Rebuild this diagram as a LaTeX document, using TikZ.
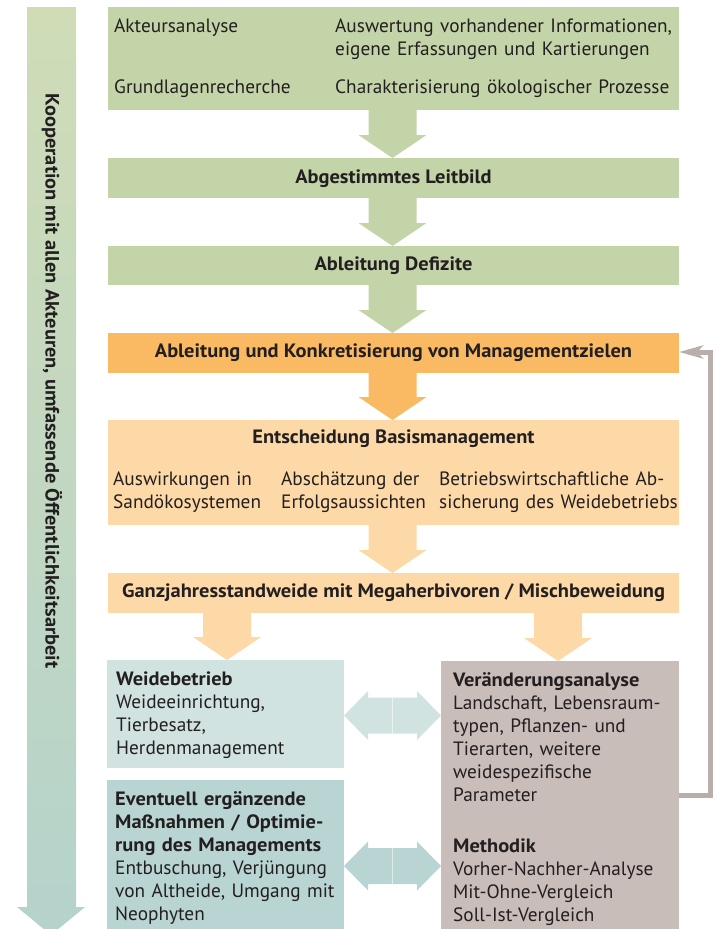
\documentclass[tikz,border=0pt]{standalone}
\usepackage{fontspec}
\setmainfont{PT Sans}[BoldFeatures={FakeStretch=1.06}]
\usetikzlibrary{arrows.meta,calc}
\definecolor{txt}{HTML}{231F20}
\definecolor{grn}{HTML}{C3D4A8}
\definecolor{org}{HTML}{FAB963}
\definecolor{lorg}{HTML}{FDD9A8}
\definecolor{tealA}{HTML}{D1E3E1}
\definecolor{tealB}{HTML}{B9D5D3}
\definecolor{taupe}{HTML}{C9BDB9}
\definecolor{fbline}{HTML}{B9AEAA}
\definecolor{sideTop}{HTML}{CFDCB6}
\definecolor{sideBot}{HTML}{B5D3CC}
\newcommand{\downblock}[4]{% colour, x (px), from node, to node
  \fill[#1] let \p1=(#3.south), \p2=(#4.north) in
    (#2pt-24pt,\y1) -- (#2pt+24pt,\y1) -- (#2pt+24pt,\y2+23pt) -- (#2pt+34pt,\y2+23pt)
    -- (#2pt,\y2) -- (#2pt-34pt,\y2+23pt) -- (#2pt-24pt,\y2+23pt) -- cycle;}
\newcommand{\twinblock}[4]{% colour, left node, right node, y (px)
  \fill[#1] let \p1=(#2.east), \p2=(#3.west) in
    (\x1,-#4pt) -- (\x1+24pt,-#4pt+24.5pt) -- (\x1+24pt,-#4pt+18pt) -- (\x2-24pt,-#4pt+18pt)
    -- (\x2-24pt,-#4pt+24.5pt) -- (\x2,-#4pt) -- (\x2-24pt,-#4pt-24.5pt) -- (\x2-24pt,-#4pt-18pt)
    -- (\x1+24pt,-#4pt-18pt) -- (\x1+24pt,-#4pt-24.5pt) -- cycle;
  \draw[white,opacity=0.55,line width=0.7pt] let \p1=(#2.east), \p2=(#3.west) in
    (0.5*\x1+0.5*\x2,-#4pt+18pt) -- (0.5*\x1+0.5*\x2,-#4pt-18pt);}
\begin{document}
\begin{tikzpicture}[x=1pt,y=-1pt,
  font=\fontsize{19.3}{23}\selectfont, text=txt,
  box/.style={rectangle, inner sep=0pt, outer sep=0pt, anchor=north west, draw=none},
  lbl/.style={anchor=base west, inner sep=0pt, align=left, text width=#1},
  lbl/.default=360pt,
  hd/.style={anchor=base, inner sep=0pt, font=\fontsize{19.3}{23}\selectfont\bfseries}]
\useasboundingbox (0,0) rectangle (717,929);

% side arrow
\shade[top color=sideTop, bottom color=sideBot]
  (27,7) -- (76,7) -- (76,907) -- (85,907) -- (51,935) -- (17,907) -- (27,907) -- cycle;
\node[rotate=-90, inner sep=0pt, font=\fontsize{19.3}{23}\selectfont\bfseries] (side) at (52,381)
  {Kooperation mit allen Akteuren, umfassende Öffentlichkeitsarbeit};

% boxes
\node[box, fill=grn, minimum width=571pt, minimum height=103pt] (top) at (108,7) {};
\node[box, fill=grn, minimum width=571pt, minimum height=40pt] (leit) at (108,158) {};
\node[box, fill=grn, minimum width=571pt, minimum height=39pt] (def) at (108,246) {};
\node[box, fill=org, minimum width=571pt, minimum height=40pt] (abl) at (108,333) {};
\node[box, fill=lorg, minimum width=571pt, minimum height=105pt] (ent) at (108,420) {};
\node[box, fill=lorg, minimum width=571pt, minimum height=40pt] (ganz) at (108,573) {};
\node[box, fill=tealA, minimum width=237pt, minimum height=108pt] (wb) at (107,660) {};
\node[box, fill=tealB, minimum width=237pt, minimum height=150pt] (ev) at (107,780) {};
\node[box, fill=taupe, minimum width=238pt, minimum height=269pt] (var) at (441,661) {};

% block arrows
\downblock{grn}{392.5}{top}{leit}
\downblock{grn}{392.5}{leit}{def}
\downblock{grn}{392.5}{def}{abl}
\downblock{org}{392.5}{abl}{ent}
\downblock{lorg}{392.5}{ent}{ganz}
\downblock{lorg}{227}{ganz}{wb}
\downblock{lorg}{558}{ganz}{var}
\twinblock{tealA}{wb}{var}{715.5}
\twinblock{tealB}{ev}{var}{866}

% feedback arrow
\coordinate (fb1) at (710.5,795.5);
\coordinate (fb2) at (710.5,352);
\draw[fbline, line width=5pt, -{Stealth[length=24pt,width=13pt,inset=6pt]}]
  (var.east |- fb1) -- (fb1) -- (fb2) -- (abl.east |- fb2);

% texts
\node[lbl] (t1) at (114,32) {Akteursanalyse};
\node[lbl] (t2) at (114,93) {Grundlagenrecherche};
\node[lbl] (t3) at (335,32) {Auswertung vorhandener Informationen,\\eigene Erfassungen und Kartierungen};
\node[lbl] (t4) at (335,93) {Charakterisierung ökologischer Prozesse};
\node[hd] (h1) at (393.5,183) {Abgestimmtes Leitbild};
\node[hd] (h2) at (393.5,270) {Ableitung Defizite};
\node[hd] (h3) at (393.5,357) {Ableitung und Konkretisierung von Managementzielen};
\node[hd] (h4) at (393.5,443) {Entscheidung Basismanagement};
\node[lbl=170pt] (e1) at (113,485) {Auswirkungen in\\Sandökosystemen};
\node[lbl=160pt] (e2) at (281,485) {Abschätzung der\\Erfolgsaussichten};
\node[lbl=250pt] (e3) at (439,485) {Betriebswirtschaftliche Ab-\\sicherung des Weidebetriebs};
\node[hd] (h5) at (393.5,597) {Ganzjahresstandweide mit Megaherbivoren / Mischbeweidung};
\node[lbl=240pt] (w1) at (116,685) {\textbf{Weidebetrieb}\\Weideeinrichtung,\\Tierbesatz,\\Herdenmanagement};
\node[lbl=240pt] (v1) at (115,805) {\textbf{Eventuell ergänzende}\\\textbf{Maßnahmen / Optimie-}\\\textbf{rung des Managements}\\Entbuschung, Verjüngung\\von Altheide, Umgang mit\\Neophyten};
\node[lbl=240pt] (r1) at (453,686) {\textbf{Veränderungsanalyse}\\Landschaft, Lebensraum-\\typen, Pflanzen- und\\Tierarten, weitere\\weidespezifische\\Parameter};
\node[lbl=240pt] (r2) at (453,852) {\textbf{Methodik}\\Vorher-Nachher-Analyse\\Mit-Ohne-Vergleich\\Soll-Ist-Vergleich};
\end{tikzpicture}
\end{document}
